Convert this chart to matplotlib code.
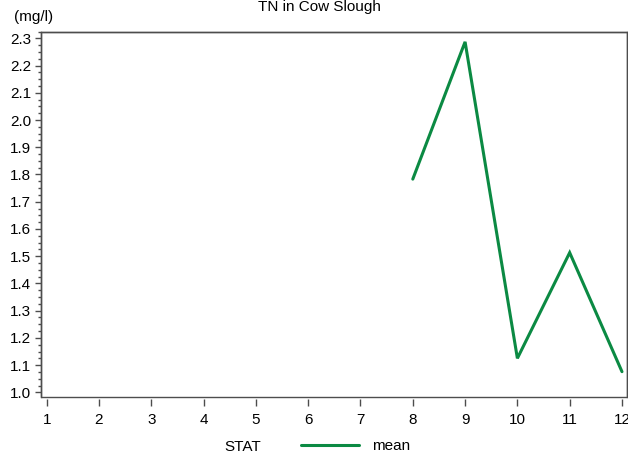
import matplotlib
matplotlib.use("Agg")
import matplotlib.pyplot as plt
from matplotlib.patches import Rectangle
from matplotlib.ticker import MultipleLocator, FormatStrFormatter

plt.rcParams['font.family'] = ['Liberation Sans', 'DejaVu Sans']

# data
months = [8, 9, 10, 11, 12]
tn_mean = [1.783, 2.287, 1.125, 1.513, 1.076]
x_ticks = list(range(1, 13))

green = '#0B8A43'
frame = '#4d4d4d'
fs = 11

fig = plt.figure(figsize=(6.28, 4.58), dpi=100)
ax = fig.add_axes([41/628, 61/458, 586/628, 365.5/458])

line, = ax.plot(months, tn_mean, color=green, lw=2.2, solid_capstyle='round',
                solid_joinstyle='miter', label='mean', clip_on=False)

ax.set_xlim(0.891, 12.096)
ax.set_ylim(0.983, 2.325)

ax.set_xticks(x_ticks)
ax.yaxis.set_major_locator(MultipleLocator(0.1))
ax.yaxis.set_minor_locator(MultipleLocator(0.025))
ax.yaxis.set_major_formatter(FormatStrFormatter('%.1f'))

ax.tick_params(axis='x', direction='out', length=5, width=1, color=frame,
               labelsize=fs, pad=5)
ax.tick_params(axis='y', which='major', direction='out', length=4, width=1,
               color=frame, labelsize=fs, pad=3)
ax.tick_params(axis='y', which='minor', direction='out', length=2, width=1,
               color=frame)

# frame box, x ticks detached a little below it
for s in ['top', 'right', 'left']:
    ax.spines[s].set_color(frame)
    ax.spines[s].set_linewidth(1)
ax.spines['bottom'].set_position(('outward', 1.5))
ax.spines['bottom'].set_color('none')
ax.add_patch(Rectangle((0, 0), 1, 1, transform=ax.transAxes, fill=False,
                       edgecolor=frame, lw=1, clip_on=False, zorder=5))

fig.text(319/628, 1 - 7/458, 'TN in Cow Slough', ha='center', va='center',
         fontsize=fs)
fig.text(33.5/628, 1 - 17.5/458, '(mg/l)', ha='center', va='center',
         fontsize=fs)

# legend
fig.text(242.5/628, 1 - 447/458, 'STAT', ha='center', va='center', fontsize=fs)
fig.legend(handles=[line], labels=['mean'], loc='center',
           bbox_to_anchor=(355.5/628, 1 - 446/458), frameon=False,
           fontsize=fs, handlelength=3.8, handletextpad=0.8,
           borderpad=0, borderaxespad=0)

fig.savefig('out.png', dpi=100)
